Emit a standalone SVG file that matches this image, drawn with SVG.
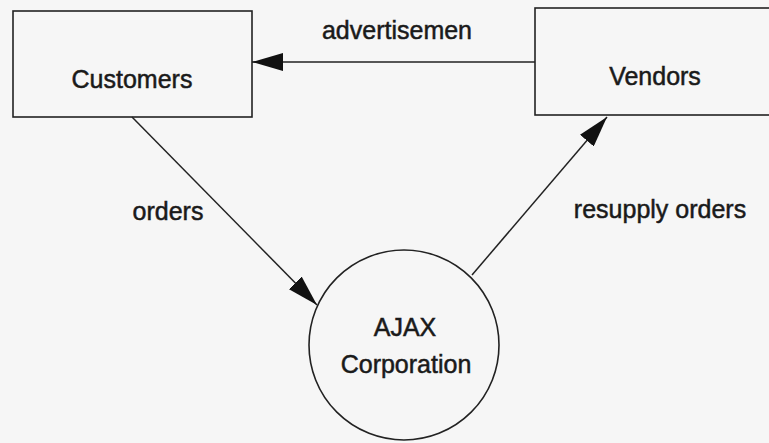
<svg xmlns="http://www.w3.org/2000/svg" width="769" height="443" viewBox="0 0 769 443">
  <style>
    .shape { fill: none; stroke: #222; stroke-width: 1.6; }
    .flow { fill: none; stroke: #222; stroke-width: 1.5; }
    .label { font-family: "Liberation Sans", Arial, sans-serif; font-size: 25px; fill: #1a1a1a; stroke: #1a1a1a; stroke-width: 0.5; }
  </style>
  <defs>
    <marker id="arrow" markerUnits="userSpaceOnUse" markerWidth="31" markerHeight="18" refX="31" refY="9" orient="auto">
      <path d="M0,0 L31,9 L0,18 z" fill="#111"/>
    </marker>
  </defs>

  <rect width="769" height="443" fill="#f6f6f6"/>

  <g id="customers">
    <rect class="shape" x="13" y="11" width="239" height="106"/>
    <text class="label" x="132" y="88" text-anchor="middle">Customers</text>
  </g>

  <g id="vendors">
    <rect class="shape" x="535" y="8" width="250" height="107"/>
    <text class="label" x="655" y="85" text-anchor="middle">Vendors</text>
  </g>

  <g id="ajax">
    <circle class="shape" cx="404" cy="345" r="95"/>
    <text class="label" x="405" y="336" text-anchor="middle">AJAX</text>
    <text class="label" x="406" y="373" text-anchor="middle">Corporation</text>
  </g>

  <g id="connectors">
    <line class="flow" x1="535" y1="62" x2="252" y2="62" marker-end="url(#arrow)"/>
    <text class="label" x="397" y="39" text-anchor="middle">advertisemen</text>

    <line class="flow" x1="132" y1="117" x2="317" y2="305" marker-end="url(#arrow)"/>
    <text class="label" x="168" y="220" text-anchor="middle">orders</text>

    <line class="flow" x1="472" y1="275" x2="607" y2="117" marker-end="url(#arrow)"/>
    <text class="label" x="660" y="218" text-anchor="middle">resupply orders</text>
  </g>
</svg>
